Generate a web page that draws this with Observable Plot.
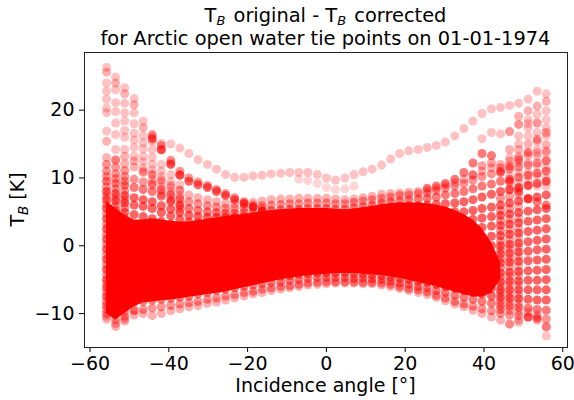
<!DOCTYPE html>
<html><head><meta charset="utf-8">
<script src="https://cdn.jsdelivr.net/npm/d3@7"></script>
<script src="https://cdn.jsdelivr.net/npm/@observablehq/plot@0.6"></script>
<style>
html,body{margin:0;padding:0;background:#fff;}
#wrap{width:574px;height:400px;position:relative;font-family:"DejaVu Sans",sans-serif;color:#000;}
#title{height:50px;position:relative;}
.tl{position:absolute;left:84px;width:483px;text-align:center;font-size:19.4px;line-height:22px;height:22px;white-space:nowrap;}
#t1{top:5px;} #t2{top:28px;}
.sub{display:inline-block;font-style:italic;font-size:13px;line-height:10px;height:10px;vertical-align:-3px;margin-right:2px;}
</style></head><body>
<div id="wrap"><div id="title"><div class="tl" id="t1">T<span class="sub">B</span> original - T<span class="sub">B</span> corrected</div><div class="tl" id="t2">for Arctic open water tie points on 01-01-1974</div></div><div id="chart"></div></div>
<script>
// incidence angle of each scan column (degrees)
const angles = [-55.8,-53.5,-51.2,-48.8,-46.5,-44.2,-41.9,-39.5,-37.2,-34.9,-32.6,-30.2,-27.9,-25.6,-23.3,-20.9,-18.6,-16.3,-14.0,-11.6,-9.3,-7.0,-4.7,-2.3,0,2.3,4.7,7.0,9.3,11.6,14.0,16.3,18.6,20.9,23.3,25.6,27.9,30.2,32.6,34.9,37.2,39.5,41.9,44.2,46.5,48.8,51.2,53.5,55.8];
const xTicks = [-60,-40,-20,0,20,40,60];
const yTicks = [-10,0,10,20];

// saturated core of the cloud (columns 0..43)
const coreStart = 0;
const coreTop = [6.5,5.5,4.5,3.8,3.8, 4.0,3.8,3.6,3.5, 3.5,3.7,3.9,4.1, 4.3,4.5,4.6,4.8,5.0, 5.2,5.3,5.4,5.5,5.5,5.5, 5.5,5.4,5.3,5.4,5.6,5.8, 6.0,6.2,6.3,6.3,6.3, 6.2,6.0,5.7,5.2, 4.6,3.8,2.5,0.5, -2.5];
const coreBot = [-10.0,-11.0,-10.0,-9.0,-8.4, -8.3,-8.1,-8.0,-7.8, -7.6,-7.4,-7.2,-7.0, -6.8,-6.5,-6.2,-5.9,-5.6, -5.3,-5.0,-4.8,-4.6,-4.4,-4.3, -4.2,-4.1,-4.1,-4.1,-4.2,-4.3, -4.4,-4.6,-4.8,-5.1,-5.4, -5.7,-6.0,-6.4,-6.8, -7.2,-7.5,-7.6,-7.0, -5.0];

// upper arc
const trackU = [26.3,24.9,23.3,21.7,18.4, 16.1,15.1,15.0,14.4, 13.6,12.7,12.0,11.3, 10.5,10.1,10.1,10.3,10.4, 10.6,10.7,10.8,10.8,10.8,10.5, 10.0,9.7,10.0,10.5,10.9,11.3, 11.9,12.8,13.6,14.0,14.2, 14.5,14.8,15.3,16.2, 17.3,18.4,19.5,20.2, 20.4,20.7,21.0,21.6,22.8, 22.4];
// main band scan lines
const band1 = [13.0,12.6,12.1,11.6,11.0, 10.5,9.7,8.9,8.2, 7.5,7.1,6.8,6.5, 6.2,6.2,6.3,6.4,6.6, 6.8,6.9,6.9,7.0,7.0,7.0, 7.0,6.9,6.8,6.9,7.1,7.3, 7.6,7.7,7.8,7.9,8.0, 8.2,8.5,8.9,9.3, 9.8,10.4,11.0,11.5, 12.0,12.5,12.9,13.3,13.7, 14.0];
const band2 = [11.0,10.6,10.2,9.8,9.4, 9.0,8.3,7.6,7.0, 6.5,6.2,5.9,5.7, 5.5,5.5,5.6,5.7,5.9, 6.0,6.1,6.2,6.2,6.3,6.3, 6.3,6.2,6.2,6.4,6.6,6.8, 7.0,7.2,7.4,7.5,7.7, 7.8,8.1,8.5,8.8, 9.2,9.7,10.2,10.6, 11.0,11.3,11.6,11.9,12.2, 12.5];
const band3 = [9.5,9.2,8.9,8.6,8.3, 8.0,7.3,6.6,6.0, 5.5,5.2,5.0,4.9, 4.8,4.8,4.9,5.0,5.1, 5.2,5.3,5.4,5.4,5.5,5.5, 5.5,5.4,5.4,5.6,5.8,6.0, 6.3,6.5,6.6,6.8,6.9, 7.0,7.2,7.5,7.7, 8.0,8.4,8.8,9.1, 9.5,9.8,10.1,10.4,10.7, 11.0];
const band4 = [8.0,7.7,7.4,7.1,6.8, 6.5,5.9,5.4,4.9, 4.5,4.3,4.2,4.2, 4.2,4.2,4.3,4.3,4.4, 4.5,4.6,4.6,4.7,4.7,4.8, 4.8,4.7,4.7,4.9,5.1,5.3, 5.6,5.7,5.8,5.9,5.9, 6.0,6.1,6.2,6.3, 6.5,6.8,7.2,7.6, 8.0,8.3,8.6,8.9,9.2, 9.5];
const band5 = [6.8,6.6,6.3,6.0,5.8, 5.5,4.9,4.4,3.9, 3.5,3.4,3.4,3.4, 3.5,3.5,3.6,3.6,3.7, 3.8,3.8,3.9,3.9,4.0,4.0, 4.0,3.9,3.9,4.1,4.3,4.5, 4.8,4.9,4.9,5.0,5.0, 5.0,5.0,5.0,5.0, 5.0,5.2,5.5,5.7, 6.0,6.3,6.6,6.9,7.2, 7.5];
const band6 = [5.5,5.2,4.9,4.6,4.3, 4.0,3.6,3.2,2.8, 2.5,2.5,2.6,2.6, 2.7,2.7,2.8,2.9,2.9, 3.0,3.0,3.1,3.1,3.2,3.2, 3.2,3.1,3.1,3.3,3.5,3.7, 4.0,4.0,4.0,4.0,4.0, 4.0,3.9,3.9,3.8, 3.8,3.9,4.1,4.3, 4.5,4.7,4.9,5.1,5.3, 5.5];
const band7 = [4.0,3.7,3.4,3.1,2.8, 2.5,2.2,1.9,1.7, 1.5,1.5,1.6,1.7, 1.8,1.9,1.9,2.0,2.1, 2.2,2.2,2.3,2.3,2.4,2.4, 2.4,2.3,2.3,2.5,2.7,2.8, 3.0,3.0,3.0,3.0,3.0, 3.0,2.9,2.7,2.6, 2.5,2.6,2.7,2.9, 3.0,3.2,3.4,3.6,3.8, 4.0];
const band8 = [2.5,2.2,1.9,1.6,1.3, 1.0,0.8,0.7,0.6, 0.5,0.5,0.6,0.7, 0.8,0.9,1.0,1.1,1.2, 1.3,1.4,1.4,1.5,1.5,1.6, 1.6,1.5,1.5,1.6,1.8,1.9, 2.0,2.0,2.0,1.9,1.9, 1.8,1.7,1.5,1.3, 1.2,1.2,1.3,1.4, 1.5,1.7,1.9,2.1,2.3, 2.5];
const band9 = [1.0,0.7,0.4,0.1,-0.2, -0.5,-0.5,-0.5,-0.5, -0.5,-0.4,-0.3,-0.3, -0.2,-0.1,0.0,0.1,0.3, 0.4,0.5,0.6,0.7,0.7,0.8, 0.8,0.7,0.7,0.8,0.9,1.0, 1.0,0.9,0.8,0.7,0.7, 0.6,0.5,0.3,0.1, 0.0,0.0,0.0,0.0, 0.0,0.2,0.4,0.6,0.8, 1.0];
const band10 = [-0.5,-0.7,-0.9,-1.1,-1.3, -1.5,-1.5,-1.5,-1.5, -1.5,-1.4,-1.3,-1.3, -1.2,-1.1,-1.0,-0.8,-0.7, -0.5,-0.4,-0.3,-0.2,-0.1,0.0, 0.0,-0.1,-0.1,0.0,0.0,0.0, 0.0,-0.1,-0.2,-0.3,-0.4, -0.5,-0.6,-0.8,-0.9, -1.0,-1.0,-1.1,-1.1, -1.2,-1.1,-0.9,-0.8,-0.6, -0.5];
const band11 = [-2.0,-2.2,-2.4,-2.5,-2.7, -2.8,-2.8,-2.7,-2.7, -2.6,-2.5,-2.4,-2.3, -2.2,-2.1,-1.9,-1.7,-1.6, -1.4,-1.3,-1.2,-1.1,-1.0,-0.9, -0.8,-0.8,-0.8,-0.8,-0.9,-0.9, -1.0,-1.1,-1.2,-1.3,-1.4, -1.6,-1.7,-1.9,-2.1, -2.2,-2.3,-2.4,-2.4, -2.5,-2.4,-2.3,-2.2,-2.1, -2.0];
const band12 = [-3.5,-3.6,-3.7,-3.8,-3.9, -4.0,-3.9,-3.8,-3.7, -3.6,-3.5,-3.3,-3.2, -3.0,-2.8,-2.7,-2.5,-2.3, -2.2,-2.1,-1.9,-1.8,-1.7,-1.6, -1.6,-1.6,-1.6,-1.7,-1.8,-1.9, -2.0,-2.1,-2.2,-2.4,-2.5, -2.6,-2.8,-3.0,-3.2, -3.4,-3.6,-3.7,-3.9, -4.0,-3.9,-3.8,-3.7,-3.6, -3.5];
const band13 = [-5.0,-5.0,-5.0,-5.0,-5.0, -5.0,-4.9,-4.8,-4.7, -4.6,-4.4,-4.2,-4.0, -3.8,-3.6,-3.5,-3.3,-3.2, -3.0,-2.9,-2.8,-2.6,-2.5,-2.4, -2.4,-2.4,-2.4,-2.5,-2.6,-2.7, -2.8,-2.9,-3.1,-3.3,-3.4, -3.6,-3.8,-4.1,-4.4, -4.6,-4.8,-5.0,-5.2, -5.3,-5.2,-5.2,-5.1,-5.1, -5.0];
const band14 = [-6.2,-6.2,-6.1,-6.1,-6.0, -6.0,-5.9,-5.8,-5.7, -5.6,-5.3,-5.1,-4.8, -4.6,-4.4,-4.3,-4.1,-4.0, -3.8,-3.7,-3.6,-3.4,-3.3,-3.2, -3.2,-3.2,-3.2,-3.3,-3.4,-3.5, -3.6,-3.8,-4.0,-4.1,-4.3, -4.5,-4.8,-5.1,-5.3, -5.6,-5.8,-6.1,-6.3, -6.5,-6.5,-6.5,-6.5,-6.5, -6.5];
const band15 = [-7.5,-7.4,-7.3,-7.2,-7.1, -7.0,-6.9,-6.8,-6.6, -6.5,-6.2,-6.0,-5.7, -5.5,-5.3,-5.1,-5.0,-4.8, -4.6,-4.5,-4.4,-4.2,-4.1,-4.0, -4.0,-4.0,-4.0,-4.1,-4.2,-4.3, -4.4,-4.6,-4.8,-5.0,-5.2, -5.4,-5.7,-6.0,-6.3, -6.6,-6.9,-7.1,-7.4, -7.6,-7.7,-7.8,-7.9,-8.0, -8.0];
const band16 = [-8.8,-8.6,-8.5,-8.3,-8.2, -8.0,-7.9,-7.7,-7.6, -7.4,-7.1,-6.9,-6.6, -6.4,-6.2,-6.0,-5.8,-5.6, -5.4,-5.3,-5.1,-5.0,-4.8,-4.7, -4.7,-4.7,-4.7,-4.8,-4.8,-4.9, -5.0,-5.2,-5.5,-5.7,-6.0, -6.2,-6.6,-6.9,-7.3, -7.6,-7.9,-8.2,-8.5, -8.8,-8.9,-9.1,-9.2,-9.4, -9.5];
const band17 = [-10.0,-9.8,-9.7,-9.5,-9.4, -9.2,-9.0,-8.8,-8.6, -8.4,-8.2,-7.9,-7.7, -7.4,-7.2,-6.9,-6.7,-6.4, -6.2,-6.0,-5.9,-5.7,-5.5,-5.4, -5.3,-5.3,-5.3,-5.3,-5.4,-5.4, -5.5,-5.7,-6.0,-6.3,-6.5, -6.8,-7.3,-7.7,-8.2, -8.6,-8.9,-9.3,-9.6, -10.0,-10.2,-10.3,-10.5,-10.6, -10.8];
const band18 = [-10.8,-11.9,-11.1,-10.2,-10.0, -10.3,-10.0,-9.6,-9.3, -9.0,-8.8,-8.5,-8.3, -8.0,-7.7,-7.4,-7.1,-6.9, -6.6,-6.4,-6.2,-6.0,-5.8,-5.7, -5.6,-5.5,-5.5,-5.5,-5.6,-5.6, -5.8,-6.0,-6.3,-6.6,-6.9, -7.2,-7.6,-8.1,-8.6, -9.0,-9.5,-10.0,-10.5, -11.0,-11.5,-11.0,-10.5,-10.8, -12.0];

// extra samples in the outermost columns
const leftCol0 = [12.0,10.2,8.7,7.4,6.1,4.7,3.2,1.7,0.2,-1.3,-2.8,-4.3,-5.6,-6.9,-8.2,-9.4];
const leftCol1 = [11.6,9.9,8.4,7.1,5.9,4.4,2.9,1.4,0.0,-1.5,-2.9,-4.3,-5.6,-6.8,-8.0,-9.2,-10.9];
const leftCol2 = [11.1,9.5,8.1,6.8,5.6,4.1,2.6,1.1,-0.3,-1.6,-3.0,-4.4,-5.5,-6.7,-7.9,-9.1,-10.4];
const rightCol43 = [7.0,5.2,3.7,2.2,0.7,-0.6,-1.9,-3.2,-4.6,-5.9,-7.0,-8.2,-9.4];
const rightCol44 = [7.3,5.5,3.9,2.4,0.9,-0.4,-1.8,-3.1,-4.5,-5.8,-7.1,-8.3,-9.5];
const rightCol45 = [7.6,5.8,4.1,2.6,1.2,-0.2,-1.6,-3.0,-4.4,-5.8,-7.2,-8.5,-9.7];
// left-edge rising scan lines (columns 0..8)
const left1 = [25.6,24.0,22.4,20.8,17.4,15.4,14.1,12.2,10.5];
const left2 = [24.0,23.0,21.0,19.6,16.2,14.2,12.0,10.5,9.0];
const left3 = [22.8,21.1,19.6,18.0,15.2,13.0,11.0,9.5,8.2];
const left4 = [21.6,19.8,18.4,16.6,14.3,12.0,10.2,8.6,7.4];
const left5 = [20.3,18.1,17.0,15.6,13.2,11.2,9.4,8.0,6.8];
const left6 = [19.6,16.4,16.0,14.5,12.4,10.5,8.8,7.4,6.2];
const left7 = [16.9,14.2,14.2,13.2,11.5,9.8,8.1,6.9,5.8];
const left8 = [15.4,12.7,13.2,12.5,10.8,9.3,7.6,6.4,5.4];
const leftLow = [-10.4,-11.5,-10.8,-9.6];
// second (descending) branch, columns 5..17
const branchA = [15.8,14.2,12.0,10.4,9.5,9.0,8.6,8.0,7.4,6.8,6.2,5.7,5.1];
const branchB = [16.4,14.8,12.6,11.0,10.0,9.4,8.9,8.3,7.7,7.1,6.5,6.0,5.5];
// faint short line near nadir, columns 21..27
const nadirLine = [9.8,9.6,9.2,8.6,8.3,8.4,8.8];
// right hump lines
const hump1 = [8.5,8.8,9.2,9.8,10.8,12.2,13.6,13.3,10.8,9.5,8.0,7.0,6.5,6.0]; // cols 35..48
const hump2 = [10.5,11.8,12.2,11.5,11.8,12.6,13.8,15.7,16.7]; // cols 40..48
const innerArc = [15.8,16.7,16.5,16.8,17.9,18.0,18.1,18.6]; // cols 41..48
// right-edge columns 44..48
const right1 = [null,19.1,19.9,20.6,21.3];
const right2 = [null,17.9,18.6,19.4,19.9];
const right3 = [16.9,16.2,17.4,18.1,17.4];
const right4 = [null,15.0,16.2,16.7,16.2];
const right5 = [14.2,14.2,15.0,15.4,14.9];
const right6 = [13.0,13.2,13.7,14.2,13.7];
const right7 = [11.6,12.2,12.2,13.2,12.7];
const right8 = [10.3,10.8,10.8,11.8,11.5];
const right9 = [9.3,9.3,9.6,10.3,10.0];
const right10 = [8.2,8.4,8.8,8.8,8.8];
const rightLow1 = [-11.6,-11.3,-10.5,-11.0,-13.3]; // cols 44..48
const rightLow2 = [-9.8,-10.2,-11.9]; // cols 46..48

// [values, first column, overlap weight]
const tracks = [
  [trackU,0,1.5],
  [band1,0,2],[band2,0,3],[band3,0,4],[band4,0,5],[band5,0,5],[band6,0,5],[band7,0,5],[band8,0,5],[band9,0,5],
  [band10,0,5],[band11,0,5],[band12,0,5],[band13,0,5],[band14,0,5],[band15,0,5],[band16,0,4],[band17,0,3],[band18,0,2],
  [left1,0,2],[left2,0,1.5],[left3,0,1.5],[left4,0,1.5],[left5,0,1.5],[left6,0,1.5],[left7,0,1.5],[left8,0,2],[leftLow,0,2],
  [branchA,5,5],[branchB,5,3],[nadirLine,21,1],
  [hump1,35,4],[hump2,40,2.5],[innerArc,41,1.5],
  [right1,44,2],[right2,44,1.5],[right3,44,1.5],[right4,44,1.5],[right5,44,2],[right6,44,1.5],[right7,44,1.5],[right8,44,1.5],[right9,44,1.5],[right10,44,1.5],
  [rightLow1,44,1.5],[rightLow2,46,2]
];
const columns = [[leftCol0,0,3],[leftCol1,1,3],[leftCol2,2,3],[rightCol43,43,3],[rightCol44,44,2.5],[rightCol45,45,2]];
const alpha = 0.17;

const coreRows = coreTop.map((t,i)=>({x: angles[coreStart+i], top: t, bot: coreBot[i]}));
const marks = [Plot.areaY(coreRows, {x:"x", y1:"bot", y2:"top", fill:"#ff0000", curve:"linear"})];
const op = n => 1 - Math.pow(1-alpha, n);
for (const [vals, start, n] of tracks) {
  const rows = vals.map((v,i)=>({x: angles[start+i], y: v})).filter(d=>d.y!=null);
  marks.push(Plot.dot(rows, {x:"x", y:"y", r:4.5, fill:"#ff0000", fillOpacity: op(n)}));
}
for (const [vals, col, n] of columns) {
  const rows = vals.map(v=>({x: angles[col], y: v}));
  marks.push(Plot.dot(rows, {x:"x", y:"y", r:4.5, fill:"#ff0000", fillOpacity: op(n)}));
}
marks.push(Plot.frame({stroke:"#222", strokeWidth:1}));

const fmt = d => d < 0 ? "\u2212" + Math.abs(d) : String(d);
const chart = Plot.plot({
  width: 574, height: 350,
  marginLeft: 84, marginRight: 7, marginTop: 2, marginBottom: 53,
  x: {domain: [-61.4, 61.2], ticks: xTicks, tickFormat: fmt, tickSize: 5, tickPadding: 4, label: null},
  y: {domain: [-15, 28.5], ticks: yTicks, tickFormat: fmt, tickSize: 5, tickPadding: 5, label: null},
  style: {fontFamily: "DejaVu Sans", fontSize: "19px", background: "white", color: "#000", overflow: "visible"},
  marks
});
document.getElementById("chart").appendChild(chart);

const svg = d3.select(chart);
svg.append("text").attr("transform","translate(325.5,342)").attr("text-anchor","middle")
  .attr("font-size",19).attr("fill","#000").text("Incidence angle [\u00b0]");
const yl = svg.append("text").attr("transform","translate(24,149.5) rotate(-90)").attr("text-anchor","middle")
  .attr("font-size",19).attr("fill","#000");
yl.append("tspan").text("T");
yl.append("tspan").attr("font-style","italic").attr("font-size",13.5).attr("dy",4).text("B");
yl.append("tspan").attr("dy",-4).text(" [K]");
</script></body></html>
